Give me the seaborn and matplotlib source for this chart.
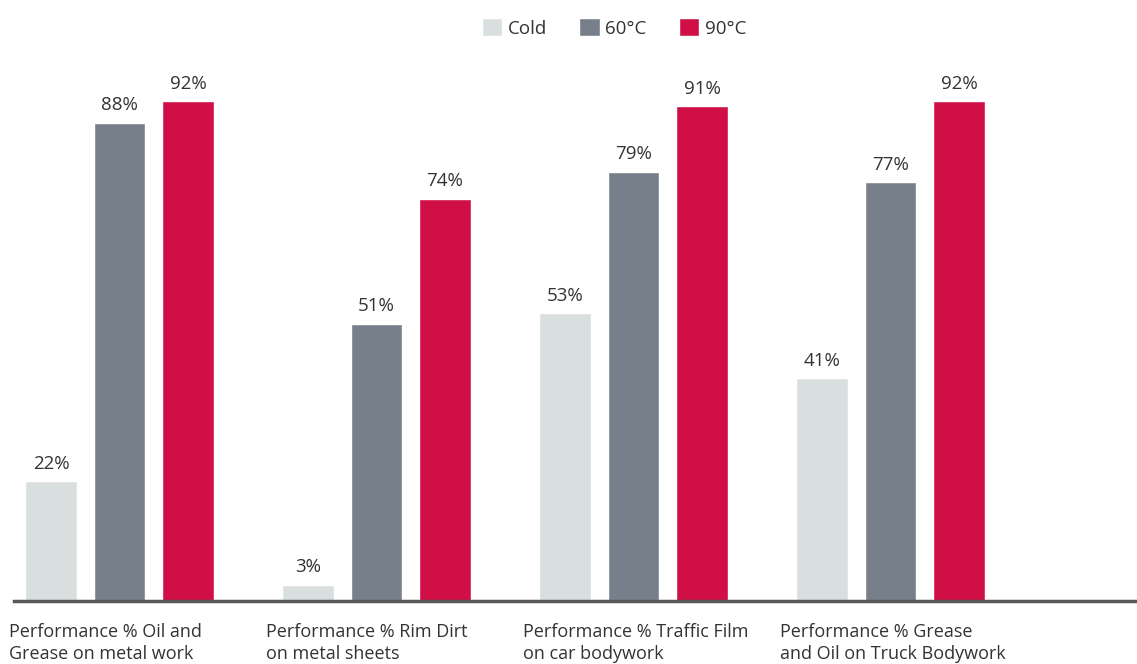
import matplotlib
matplotlib.use("Agg")
import matplotlib.pyplot as plt
import matplotlib.transforms as mtransforms
import seaborn as sns
import pandas as pd

categories = [
    "Performance % Oil and\nGrease on metal work",
    "Performance % Rim Dirt\non metal sheets",
    "Performance % Traffic Film\non car bodywork",
    "Performance % Grease\nand Oil on Truck Bodywork",
]
series = ["Cold", "60°C", "90°C"]
cold = [22, 3, 53, 41]
t60 = [88, 51, 79, 77]
t90 = [92, 74, 91, 92]
colors = ["#d9dfdf", "#77808a", "#cf0f45"]

rows = []
for s, vals in zip(series, [cold, t60, t90]):
    for c, v in zip(categories, vals):
        rows.append({"category": c, "series": s, "value": v})
df = pd.DataFrame(rows)

sns.set_theme(style="white")
plt.rcParams["font.family"] = ["Open Sans", "DejaVu Sans"]

fig = plt.figure(figsize=(11.37, 6.64), dpi=100)
ax = fig.add_axes([14 / 1137, 63 / 664, 1 - 14 / 1137, 1 - 63 / 664])

sns.barplot(data=df, x="category", y="value", hue="series", order=categories,
            hue_order=series, palette=colors, width=0.8, gap=0.25,
            ax=ax, legend=True, saturation=1)

for cont in ax.containers:
    labels = [f"{int(round(b.get_height()))}%" for b in cont]
    ax.bar_label(cont, labels=labels, padding=6, fontsize=13.5, color="#333333")

ax.set_ylim(0, 601 / 5.436)
ax.set_xlim(-(119.5 - 14) / 257, (1137 - 119.5) / 257)
ax.set_xlabel("")
ax.set_ylabel("")
ax.set_yticks([])
ax.set_xticks(range(len(categories)))
ax.set_xticklabels([])
ax.tick_params(axis="x", length=0)
for sp in ["top", "right", "left"]:
    ax.spines[sp].set_visible(False)
ax.spines["bottom"].set_color("#58595b")
ax.spines["bottom"].set_linewidth(2.5)

trans = mtransforms.blended_transform_factory(ax.transData, ax.transAxes)
for i, c in enumerate(categories):
    ax.text(i - 0.43, -22 / 601, c, transform=trans, ha="left", va="top",
            fontsize=13, color="#333333", linespacing=1.3)

handles, labs = ax.get_legend_handles_labels()
ax.get_legend().remove()
fig.legend(handles, labs, loc="upper center", bbox_to_anchor=(614 / 1137, 0.995),
           ncol=3, frameon=False, fontsize=13.5, handlelength=1.1, handleheight=1.1,
           handletextpad=0.3, columnspacing=1.7, labelcolor="#333333",
           borderaxespad=0.4)

fig.savefig("out.png", dpi=100)
